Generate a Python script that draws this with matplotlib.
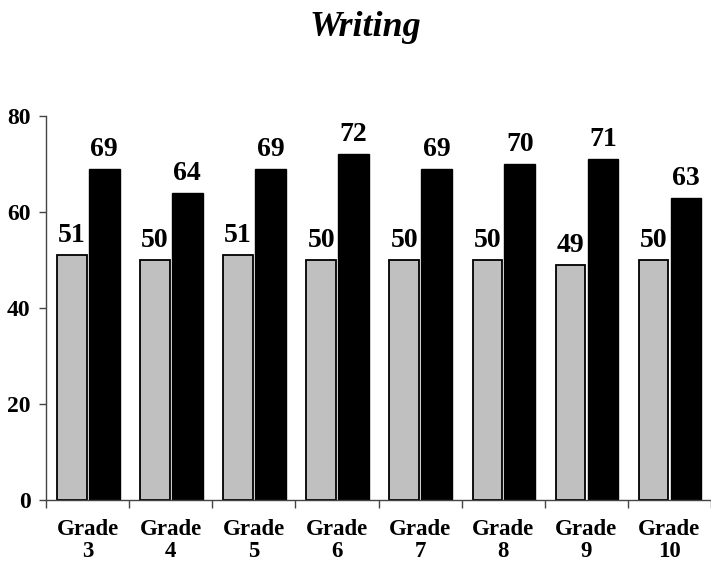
import matplotlib
matplotlib.use("Agg")
import matplotlib.pyplot as plt
import numpy as np

grades = ["Grade\n3", "Grade\n4", "Grade\n5", "Grade\n6", "Grade\n7", "Grade\n8", "Grade\n9", "Grade\n10"]
series_a = [51, 50, 51, 50, 50, 50, 49, 50]
series_b = [69, 64, 69, 72, 69, 70, 71, 63]
yticks = [0, 20, 40, 60, 80]

plt.rcParams["font.family"] = ["Liberation Serif", "DejaVu Serif"]
plt.rcParams["font.weight"] = "bold"

fig = plt.figure(figsize=(7.11, 5.62), dpi=100)
ax = fig.add_axes([46 / 711, 1 - 500 / 562, 1 - 46 / 711, (500 - 116) / 562])

n = len(grades)
pos = np.arange(n)
ax.bar(pos + 0.31, series_a, width=0.357, color="#c0c0c0", edgecolor="black", linewidth=1.3)
ax.bar(pos + 0.70, series_b, width=0.37, color="black", edgecolor="black", linewidth=1.0)

for x, v in zip(pos + 0.31, series_a):
    ax.annotate(str(v), (x, v), xytext=(0, 5), textcoords="offset points",
                ha="center", va="bottom", fontsize=20, fontweight="bold")
for x, v in zip(pos + 0.70, series_b):
    ax.annotate(str(v), (x, v), xytext=(0, 5), textcoords="offset points",
                ha="center", va="bottom", fontsize=20, fontweight="bold")

ax.set_xlim(0, 665 / 84)
ax.set_ylim(0, 80)
ax.set_yticks(yticks)
ax.set_yticklabels([str(t) for t in yticks], fontsize=17, fontweight="bold")
ax.tick_params(axis="y", direction="out", length=5, width=1, color="#444444", pad=6)

ax.set_xticks(pos + 0.5)
ax.set_xticklabels(grades, fontsize=16.5, fontweight="bold", linespacing=1.05)
ax.tick_params(axis="x", which="major", length=0, pad=14)
ax.set_xticks(np.arange(n + 1), minor=True)
ax.tick_params(axis="x", which="minor", direction="out", length=6, width=1, color="#444444")

for s in ["top", "right"]:
    ax.spines[s].set_visible(False)
for s in ["left", "bottom"]:
    ax.spines[s].set_color("#444444")
    ax.spines[s].set_linewidth(1.0)

fig.text(365 / 711, 1 - 28 / 562, "Writing", ha="center", va="center",
         fontsize=26, fontweight="bold", fontstyle="italic")

fig.savefig("out.png", dpi=100)
